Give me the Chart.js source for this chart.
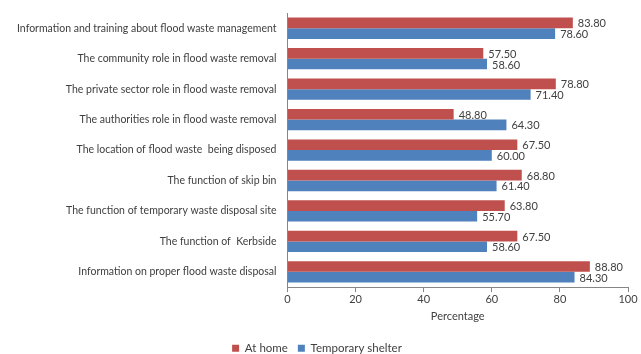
<!DOCTYPE html>
<html>
<head>
<meta charset="utf-8">
<script src="https://cdn.jsdelivr.net/npm/chart.js@4"></script>
<style>
  html, body { margin: 0; padding: 0; background: #fff; }
  #wrap { width: 641px; height: 354px; }
</style>
</head>
<body>
<div id="wrap"><canvas id="mainChart"></canvas></div>
<script>
// categories top to bottom as in the figure
const categories = [
  'Information and training about flood waste management',
  'The community role in flood waste removal',
  'The private sector role in flood waste removal',
  'The authorities role in flood waste removal',
  'The location of flood waste  being disposed',
  'The function of skip bin',
  'The function of temporary waste disposal site',
  'The function of  Kerbside',
  'Information on proper flood waste disposal'
];
const atHome = [83.8, 57.5, 78.8, 48.8, 67.5, 68.8, 63.8, 67.5, 88.8];
const temporaryShelter = [78.6, 58.6, 71.4, 64.3, 60.0, 61.4, 55.7, 58.6, 84.3];
const xTicks = [0, 20, 40, 60, 80, 100];

const FONT = 'Lato, "Open Sans", sans-serif';

// draws the value next to the end of each bar
const valueLabels = {
  id: 'valueLabels',
  afterDatasetsDraw(chart) {
    const ctx = chart.ctx;
    ctx.save();
    ctx.font = '11px ' + FONT;
    ctx.fillStyle = '#404040';
    ctx.textAlign = 'left';
    ctx.textBaseline = 'middle';
    chart.data.datasets.forEach((ds, i) => {
      const meta = chart.getDatasetMeta(i);
      meta.data.forEach((bar, j) => {
        ctx.fillText(ds.data[j].toFixed(2), bar.x + 5, bar.y + 1);
      });
    });
    ctx.restore();
  }
};

const ctx = document.getElementById('mainChart').getContext('2d');
new Chart(ctx, {
  type: 'bar',
  data: {
    labels: categories,
    datasets: [
      { label: 'At home', data: atHome, backgroundColor: '#C0504D', categoryPercentage: 0.7, barPercentage: 1.0 },
      { label: 'Temporary shelter', data: temporaryShelter, backgroundColor: '#4F81BD', categoryPercentage: 0.7, barPercentage: 1.0 }
    ]
  },
  options: {
    indexAxis: 'y',
    responsive: true,
    maintainAspectRatio: false,
    animation: false,
    layout: { padding: { left: 6, right: 13, top: 13, bottom: -10 } },
    scales: {
      x: {
        min: 0, max: 100,
        afterBuildTicks: axis => { axis.ticks = xTicks.map(v => ({ value: v })); },
        afterFit: axis => { axis.paddingRight = 0; axis.paddingLeft = 0; },
        grid: { display: true, drawOnChartArea: false, tickLength: 5, color: '#868686' },
        border: { color: '#868686' },
        ticks: { font: { family: FONT, size: 11 }, color: '#404040', padding: 1 },
        title: { display: true, text: 'Percentage', font: { family: FONT, size: 11 }, color: '#404040', padding: { top: 3, bottom: 9 } }
      },
      y: {
        afterFit: axis => { axis.paddingTop = 0; axis.paddingBottom = 0; },
        grid: { display: false, drawTicks: false },
        border: { color: '#868686' },
        ticks: { font: { family: FONT, size: 10.5 }, color: '#404040', padding: 11 }
      }
    },
    plugins: {
      legend: {
        position: 'bottom',
        labels: { boxWidth: 7, boxHeight: 7, font: { family: FONT, size: 11.5 }, color: '#404040', padding: 10 }
      },
      tooltip: { enabled: false }
    }
  },
  plugins: [valueLabels]
});
</script>
</body>
</html>
